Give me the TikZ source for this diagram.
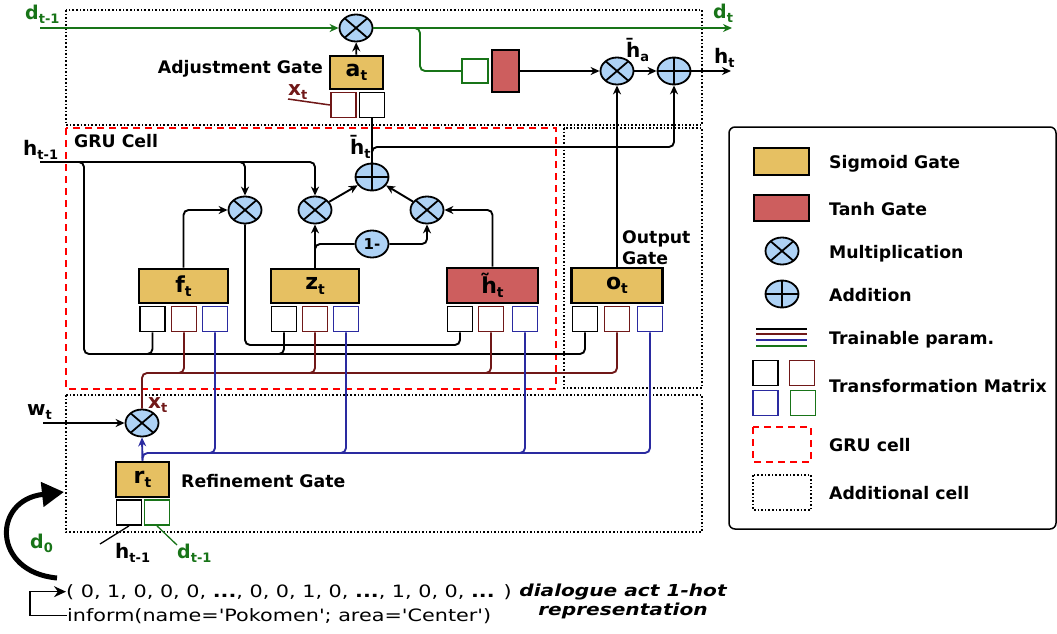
\documentclass[tikz,border=0pt]{standalone}
\usepackage{fontspec}
\setmainfont{DejaVu Sans}
\newfontfamily\widefont[FakeStretch=1.22,Ligatures=TeXOff]{DejaVu Sans}
\usetikzlibrary{arrows.meta,shapes.geometric,calc}
\definecolor{gold}{RGB}{230,192,98}
\definecolor{tanhred}{RGB}{205,94,94}
\definecolor{opblue}{RGB}{174,210,245}
\definecolor{dkred}{RGB}{112,24,24}
\definecolor{dkblue}{RGB}{42,42,160}
\definecolor{dkgreen}{RGB}{24,116,24}
\newcommand\lsub[2][13]{\raisebox{-4.5pt}{\fontsize{#1}{#1}\selectfont\bfseries #2}}
\newcommand\myhbar{h^^^^0304}
\newcommand\myhtil{h^^^^0303}
\tikzset{
  dotframe/.style={line width=1.6pt, dash pattern=on 1.6pt off 2pt},
  gruframe/.style={red, line width=1.8pt, dash pattern=on 7pt off 5pt},
  wire/.style={line width=1.9pt, rounded corners=5pt},
  arr/.style={-{Stealth[length=9pt,width=8pt]}},
  gate/.style={draw, line width=2.8pt, inner sep=0pt, minimum height=34pt, font=\fontsize{22}{22}\selectfont\bfseries},
  sig/.style={gate, fill=gold},
  tnh/.style={gate, fill=tanhred},
  tm/.style={draw, line width=1.8pt, fill=white, minimum width=25pt, minimum height=25pt, inner sep=0pt},
  opnode/.style={ellipse, draw, line width=1.8pt, fill=opblue, minimum width=33pt, minimum height=27pt, inner sep=0pt},
  mul/.style={opnode, path picture={
     \draw[line width=1.8pt] ([shift={(-14,-12)}]path picture bounding box.center) -- ([shift={(14,12)}]path picture bounding box.center);
     \draw[line width=1.8pt] ([shift={(-14,12)}]path picture bounding box.center) -- ([shift={(14,-12)}]path picture bounding box.center);}},
  addn/.style={opnode, path picture={
     \draw[line width=1.8pt] ([shift={(-20,0)}]path picture bounding box.center) -- ([shift={(20,0)}]path picture bounding box.center);
     \draw[line width=1.8pt] ([shift={(0,-20)}]path picture bounding box.center) -- ([shift={(0,20)}]path picture bounding box.center);}},
  lab/.style={inner sep=0pt, anchor=base west, font=\fontsize{20}{20}\selectfont\bfseries},
  dlab/.style={lab, text=dkgreen, font=\fontsize{19}{19}\selectfont\bfseries},
  txt/.style={inner sep=0pt, font=\fontsize{17.3}{17.3}\selectfont\bfseries},
}
\begin{document}
\begin{tikzpicture}[x=1pt,y=-1pt]
\useasboundingbox (0,0) rectangle (1057,633);
% frames
\draw[dotframe] (66,10) rectangle (702,125);
\draw[gruframe] (66,128) rectangle (556,389);
\draw[dotframe] (564,128) rectangle (702,388);
\draw[dotframe] (66,395) rectangle (702,532);

% operators
\node[mul] (mT) at (356,28) {};
\node[mul] (mA) at (617,71) {};
\node[addn] (aF) at (674,71) {};
\node[addn] (aG) at (372,177) {};
\node[mul] (m1) at (245,210) {};
\node[mul] (m2) at (315,210) {};
\node[mul] (m3) at (427,210) {};
\node[opnode, font=\fontsize{15}{15}\selectfont\bfseries] (om) at (372,244) {1-};
\node[mul] (mR) at (142,423) {};

% gates and transformation matrices
\node[sig, minimum width=53pt, minimum height=33pt] (at) at (356.5,72.5) {a\lsub[14]{t}};
\node[tm, draw=dkred] (adr) at (343.5,105) {};
\node[tm] (abk) at (372,105) {};
\node[tnh, minimum width=27pt, minimum height=42pt] (tn) at (505.5,71) {};
\node[tm, draw=dkgreen, minimum width=26pt, minimum height=24pt] (gsq) at (475,71) {};

\node[sig, minimum width=89pt] (ft) at (183.5,286) {f\lsub[14]{t}};
\node[tm] (fbk) at (152.5,319) {};
\node[tm, draw=dkred] (fdr) at (184,319) {};
\node[tm, draw=dkblue] (fbl) at (215,319) {};
\node[sig, minimum width=88pt] (zt) at (315,286) {z\lsub[14]{t}};
\node[tm] (zbk) at (284,319) {};
\node[tm, draw=dkred] (zdr) at (315,319) {};
\node[tm, draw=dkblue] (zbl) at (346,319) {};
\node[tnh, minimum width=91pt, minimum height=35pt] (hc) at (492.5,285.5) {\myhtil\lsub[14]{t}};
\node[tm] (hbk) at (460,319) {};
\node[tm, draw=dkred] (hdr) at (491,319) {};
\node[tm, draw=dkblue] (hbl) at (525,319) {};
\node[sig, minimum width=91pt, minimum height=35pt] (ot) at (617,285.5) {o\lsub[14]{t}};
\node[tm] (obk) at (585,319) {};
\node[tm, draw=dkred] (odr) at (617,319) {};
\node[tm, draw=dkblue] (obl) at (650,319) {};
\node[sig, minimum width=53pt, minimum height=35pt] (rt) at (142.5,479.5) {r\lsub[14]{t}};
\node[tm] (rbk) at (129,512.5) {};
\node[tm, draw=dkgreen] (rgr) at (157,512.5) {};

% free ends
\coordinate (dIn) at (40,28);
\coordinate (dOut) at (732,28);
\coordinate (hOut) at (731,71);
\coordinate (hIn) at (40,162);
\coordinate (wIn) at (43,423);
\coordinate (xa) at (288,99);
\coordinate (hb) at (100,544);
\coordinate (db) at (177,545);

% top (adjustment) connectors
\draw[wire, dkgreen, arr] (dIn) -- (mT);
\draw[wire, dkgreen, arr] (mT) -- (dOut);
\draw[wire, dkgreen] (408,28) -- (420,28) |- (gsq.west);
\draw[wire, arr] (tn) -- (mA);
\draw[wire, arr] (mA) -- (aF);
\draw[wire, arr] (aF) -- (hOut);
\draw[wire, arr] (at) -- (mT);
\draw[line width=1.5pt, dkred] (xa) -- (adr.west);
\draw[wire] (abk) -- (aG);
\draw[wire, arr] (372,158) |- (674,147) -- (aF);
\draw[wire, arr] (ot) -- (mA);

% GRU connectors
\draw[wire, arr] (hIn) -| (m2.north);
\draw[wire, arr] (230,162) -| (m1.north);
\draw[wire] (70,162) -- (84,162) -- (84,354) -| (fbk.south);
\draw[wire] (140,354) -| (zbk.south);
\draw[wire] (270,354) -| (obk.south);
\draw[wire] (m1.south) |- (440,345) -| (hbk.south);
\draw[wire, arr] (ft.north) |- (m1.west);
\draw[wire, arr] (zt.north) -- (m2.south);
\draw[wire] (315,256) |- (om.west);
\draw[wire, arr] (om.east) -| (m3.south);
\draw[wire, arr] (hc.north) |- (m3.east);
\draw[wire, arr] (m2) -- (aG);
\draw[wire, arr] (m3) -- (aG);

% x_t (dark red)
\draw[wire, dkred] (mR.north) |- (170,373) -| (fdr.south);
\draw[wire, dkred] (170,373) -| (zdr.south);
\draw[wire, dkred] (300,373) -| (hdr.south);
\draw[wire, dkred] (480,373) -| (odr.south);

% r_t (blue)
\draw[wire, dkblue, arr] (rt.north) -- (mR.south);
\draw[wire, dkblue] (rt.north) |- (200,453) -| (fbl.south);
\draw[wire, dkblue] (200,453) -| (zbl.south);
\draw[wire, dkblue] (330,453) -| (hbl.south);
\draw[wire, dkblue] (510,453) -| (obl.south);

\draw[line width=1.3pt, arr] (wIn) -- (mR);
\draw[line width=1.3pt] (rbk.south) -- (hb);
\draw[line width=1.3pt, dkgreen] (rgr.south) -- (db);

% big curved arrow
\coordinate (c0) at (57,578);
\coordinate (c1) at (64,492);
\draw[line width=5pt, -{Triangle[length=22pt,width=24pt]}] (c0) .. controls (-8,572) and (-8,500) .. (c1);

% labels
\node[dlab] (ldtm) at (25,19) {d\lsub{t-1}};
\node[dlab] (ldt) at (713,18) {d\lsub{t}};
\node[lab] (lht) at (714,63) {h\lsub{t}};
\node[lab] (lha) at (626,57) {\myhbar\lsub{a}};
\node[txt, anchor=base east] (ladj) at (323,73) {Adjustment Gate};
\node[lab, text=dkred] (lxa) at (288,95) {x\lsub{t}};
\node[txt, anchor=base west] (lgru) at (74,147) {GRU Cell};
\node[lab] (lhin) at (23,155) {h\lsub{t-1}};
\node[lab] (lhbar) at (350,154) {\myhbar\lsub{t}};
\node[txt, anchor=north west, align=left, font=\fontsize{17.3}{21}\selectfont\bfseries] (lout) at (622,230) {Output\\Gate};
\node[lab] (lw) at (27,415) {w\lsub{t}};
\node[lab, text=dkred] (lxr) at (148,408) {x\lsub{t}};
\node[txt, anchor=base west] (lref) at (181,487) {Refinement Gate};
\node[lab] (lhb) at (115,558) {h\lsub{t-1}};
\node[dlab] (ldb) at (177,558) {d\lsub{t-1}};
\node[dlab] (ld0) at (30,548) {d\lsub{0}};

% bottom texts
\node[anchor=base west, inner sep=0pt, font=\widefont\fontsize{17}{17}\selectfont] (hot) at (66,597) {( 0, 1, 0, 0, 0, \textbf{...}, 0, 0, 1, 0, \textbf{...}, 1, 0, 0, \textbf{...} )};
\node[anchor=base west, inner sep=0pt, font=\widefont\fontsize{17}{17}\selectfont] (inf) at (67,621) {inform(name='Pokomen'; area='Center')};
\draw[line width=1.3pt, -{Stealth[length=12pt,width=11pt]}] (inf.west) -- ++(-37,0) |- (hot.west);
\node[anchor=north, align=center, inner sep=0pt, font=\widefont\fontsize{16.5}{19}\selectfont\bfseries\itshape] (lda) at (623,584) {dialogue act 1-hot\\representation};

% legend
\draw[line width=1.5pt, rounded corners=6pt] (729,127) rectangle (1056,529);
\node[sig, minimum width=55pt, minimum height=27pt] (lsig) at (781.5,161.5) {};
\node[txt, anchor=base west] (tsig) at (829,168) {Sigmoid Gate};
\node[tnh, minimum width=55pt, minimum height=26pt] (ltan) at (781.5,208) {};
\node[txt, anchor=base west] (ttan) at (829,215) {Tanh Gate};
\node[mul] (lmul) at (782,251) {};
\node[txt, anchor=base west] (tmul) at (829,258) {Multiplication};
\node[addn] (ladd) at (782,294) {};
\node[txt, anchor=base west] (tadd) at (829,301) {Addition};
\draw[line width=1.5pt] (756,329) -- (807,329);
\draw[line width=1.5pt, dkred] (756,334) -- (807,334);
\draw[line width=1.5pt, dkblue] (756,340) -- (807,340);
\draw[line width=1.5pt, dkgreen] (756,346) -- (807,346);
\node[txt, anchor=base west] (ttr) at (829,344) {Trainable param.};
\node[tm] (lbk) at (765.5,373) {};
\node[tm, draw=dkred] (ldr) at (802,373) {};
\node[tm, draw=dkblue] (lbl) at (765.5,403) {};
\node[tm, draw=dkgreen] (lgr) at (803,403) {};
\node[txt, anchor=base west] (ttm) at (829,392) {Transformation Matrix};
\draw[gruframe] (753,427) rectangle (811,462);
\node[txt, anchor=base west] (tgru) at (829,451) {GRU cell};
\draw[dotframe] (753,475) rectangle (811,510);
\node[txt, anchor=base west] (tadc) at (829,499) {Additional cell};
\end{tikzpicture}
\end{document}
